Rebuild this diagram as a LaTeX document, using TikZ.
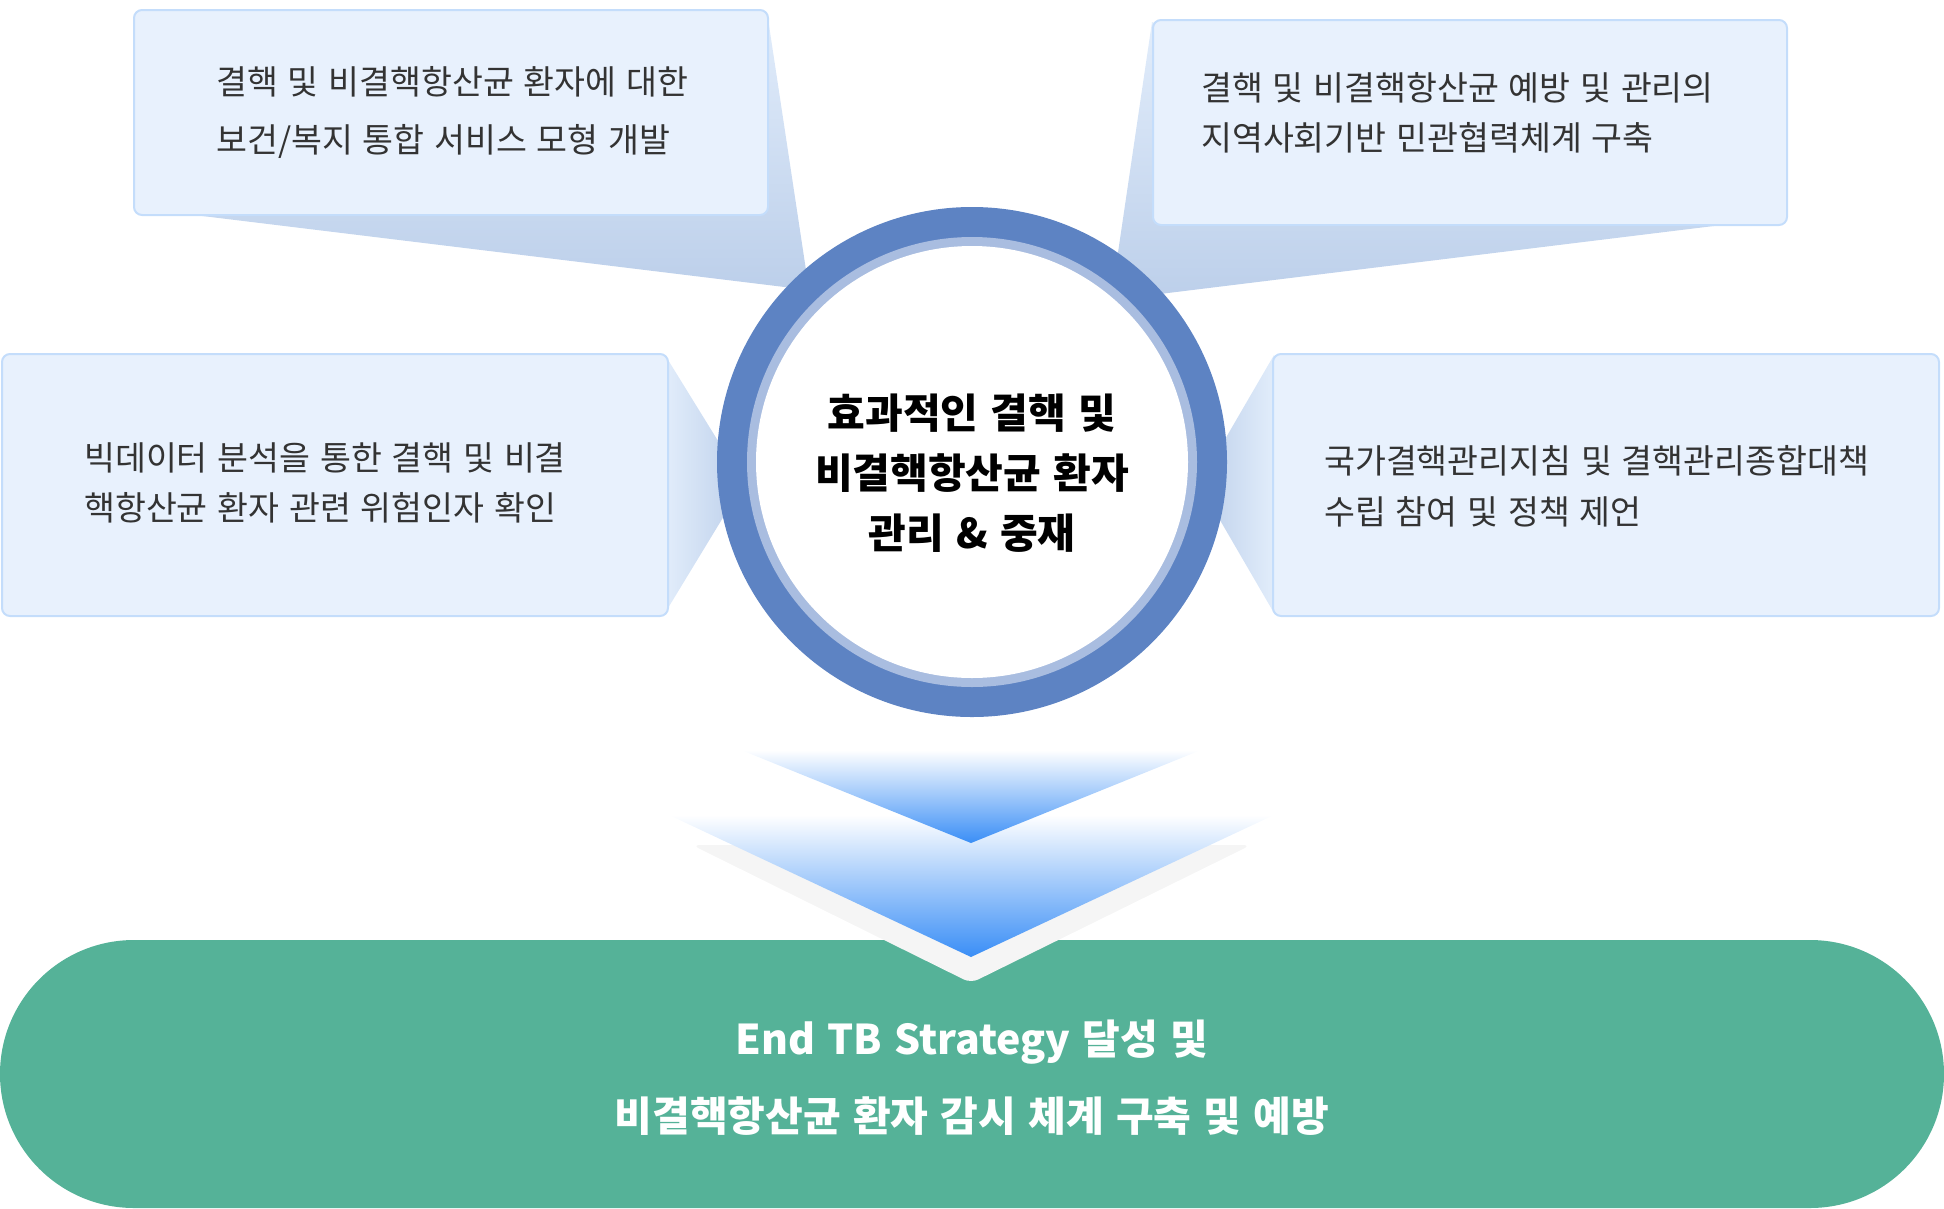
\documentclass[tikz,border=0pt]{standalone}
\usepackage{fontspec}
\setmainfont[WordSpace=1.3]{Noto Sans CJK KR}
\usepackage{tikz}

\definecolor{boxfill}{HTML}{E8F1FD}
\definecolor{boxline}{HTML}{C4DDFB}
\definecolor{wedgelight}{HTML}{E2EDFB}
\definecolor{wedgedark}{HTML}{BCCFEA}
\definecolor{ringdark}{HTML}{5D83C3}
\definecolor{ringlight}{HTML}{A9BDE0}
\definecolor{tealgreen}{HTML}{55B298}
\definecolor{chevgray}{HTML}{F5F5F5}
\definecolor{chevblue}{HTML}{3A8EF6}
\definecolor{chevmid}{HTML}{BCCFEC}
\definecolor{textgray}{HTML}{333333}

\begin{document}
\begin{tikzpicture}[x=1pt, y=-1pt,
  infobox/.style={draw=boxline, line width=2pt, fill=boxfill, rounded corners=8pt,
    inner sep=0pt, anchor=north west},
  infotext/.style={anchor=west, align=left, inner sep=0pt, text=textgray},
  ring/.style={circle, inner sep=0pt}]

\useasboundingbox (0,0) rectangle (1944,1208);

% callout wedges
\shade [top color=wedgelight, middle color=wedgelight, bottom color=wedgedark]
      (767,12) -- (809,290) -- (186,214) -- cycle;
\shade [top color=wedgelight, middle color=wedgelight, bottom color=wedgedark]
      (1152,22) -- (1111,300) -- (1730,224) -- cycle;
\shade [left color=wedgelight, right color=wedgedark]
      (665,355) -- (744,483) -- (665,613) -- cycle;
\shade [left color=wedgedark, right color=wedgelight]
      (1274,355) -- (1199,484) -- (1274,613) -- cycle;

% boxes
\node [infobox, minimum width=634pt, minimum height=205pt] (boxtl) at (133,9) {};
\node [infobox, minimum width=634pt, minimum height=205pt] (boxtr) at (1152,19) {};
\node [infobox, minimum width=666pt, minimum height=262pt] (boxlm) at (1,353) {};
\node [infobox, minimum width=666pt, minimum height=262pt] (boxrm) at (1272,353) {};

% box texts
\node [infotext, font=\fontsize{33.6}{58}\selectfont] (texttl) at (216,112)
      {결핵 및 비결핵항산균 환자에 대한\\보건/복지 통합 서비스 모형 개발};
\node [infotext, font=\fontsize{33.6}{50}\selectfont] (texttr) at (1201,113)
      {결핵 및 비결핵항산균 예방 및 관리의\\지역사회기반 민관협력체계 구축};
\node [infotext, font=\fontsize{33.6}{50}\selectfont] (textlm) at (84,483)
      {빅데이터 분석을 통한 결핵 및 비결\\핵항산균 환자 관련 위험인자 확인};
\node [infotext, font=\fontsize{33.6}{51}\selectfont] (textrm) at (1324,486)
      {국가결핵관리지침 및 결핵관리종합대책\\수립 참여 및 정책 제언};

% central circle
\node [ring, fill=ringdark, minimum size=510pt] (hub) at (972,462) {};
\node [ring, fill=ringlight, minimum size=450pt] (hubring) at (hub) {};
\node [ring, fill=white, minimum size=432pt] (hubcore) at (hub) {};
\node [align=center, font=\fontsize{41}{60}\selectfont\bfseries] (hubtext) at (972,473)
      {효과적인 결핵 및\\비결핵항산균 환자\\관리 \& 중재};

% goal bar
\fill [tealgreen, rounded corners=134pt] (0,940) rectangle (1944,1208);

% arrows down
\fill [chevgray, rounded corners=8pt] (692,845) -- (1251,845) -- (971,983) -- cycle;
\shade [top color=white, middle color=chevmid, bottom color=chevblue]
      (669,815) -- (1274,815) -- (971,957) -- cycle;
\shade [top color=white, middle color=chevmid, bottom color=chevblue]
      (741,750) -- (1201,750) -- (971,843) -- cycle;

% goal text
\node [align=center, text=white, font=\fontsize{41}{77}\selectfont\bfseries] (goaltext) at (972,1078)
      {End TB Strategy 달성 및\\비결핵항산균 환자 감시 체계 구축 및 예방};

\end{tikzpicture}
\end{document}
